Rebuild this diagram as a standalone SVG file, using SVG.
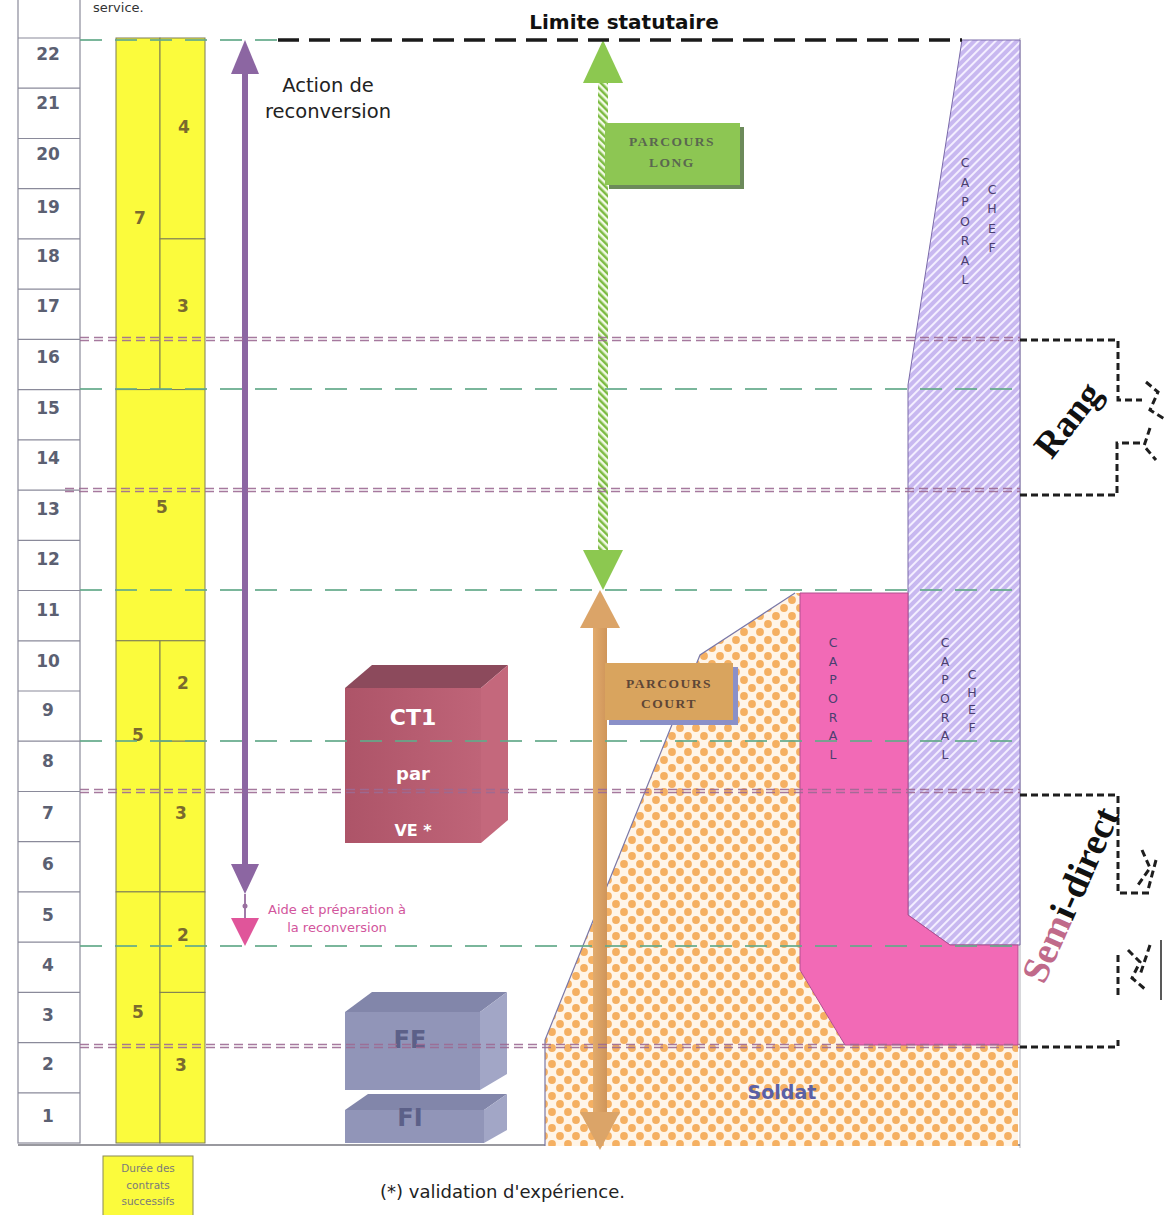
<svg xmlns="http://www.w3.org/2000/svg" width="1168" height="1215" viewBox="0 0 1168 1215">
<defs>
<style>
.num{font-family:"DejaVu Sans",Verdana,sans-serif;font-weight:bold;font-size:17px;fill:#5b6072;text-anchor:middle}
.yl{font-family:"DejaVu Sans",Verdana,sans-serif;font-weight:bold;font-size:17px;fill:#7a6a2e;text-anchor:middle}
.bar{fill:#fbfb3c;stroke:#7d7d55;stroke-width:1}
.cap{font-family:"DejaVu Sans",Verdana,sans-serif;font-size:12.5px;fill:#4a4070;text-anchor:middle}
.gl{stroke:#63a98a;stroke-width:2;stroke-dasharray:22 13;fill:none;opacity:.85}
.pl{stroke:#9c6a94;stroke-width:1.4;stroke-dasharray:9 5;fill:none;opacity:.9}
.bk{stroke:#1e1e1e;stroke-width:3;stroke-dasharray:7 4;fill:none}
.pc{font-family:"Liberation Serif","Times New Roman",serif;font-weight:bold;font-size:13.5px;letter-spacing:1.5px;text-anchor:middle}
.sans{font-family:"DejaVu Sans",Verdana,sans-serif}
</style>
<pattern id="hatch" width="6" height="6" patternUnits="userSpaceOnUse" patternTransform="rotate(45)">
<rect width="6" height="6" fill="#c8b8f0"/><rect width="2" height="6" fill="#f3eeff"/>
</pattern>
<pattern id="dots" width="16" height="16" patternUnits="userSpaceOnUse">
<rect width="16" height="16" fill="#fff5e8"/>
<circle cx="0" cy="0" r="3.9" fill="#f5b062"/><circle cx="16" cy="0" r="3.9" fill="#f5b062"/>
<circle cx="0" cy="16" r="3.9" fill="#f5b062"/><circle cx="16" cy="16" r="3.9" fill="#f5b062"/>
<circle cx="8" cy="8" r="3.9" fill="#f5b062"/>
</pattern>
<pattern id="gstripe" width="5" height="5" patternUnits="userSpaceOnUse" patternTransform="rotate(-45)">
<rect width="5" height="5" fill="#f2fae6"/><rect width="2.5" height="5" fill="#7cbb42"/>
</pattern>
<linearGradient id="ctg" x1="0" y1="0" x2="1" y2="0"><stop offset="0" stop-color="#ad5468"/><stop offset="1" stop-color="#bf6478"/></linearGradient>
<linearGradient id="org" x1="0" y1="0" x2="1" y2="0"><stop offset="0" stop-color="#e2ab6c"/><stop offset="1" stop-color="#cf955a"/></linearGradient>
</defs>
<rect width="1168" height="1215" fill="#ffffff"/>

<text class="sans" x="93" y="12" font-size="13" fill="#333">service.</text>

<g id="axis">
<rect x="18" y="-2" width="62" height="1145" fill="none" stroke="#8a8a9a" stroke-width="1.2"/>
<g stroke="#8a8a9a" stroke-width="1.2">
<line x1="18" y1="38" x2="80" y2="38"/><line x1="18" y1="88.2" x2="80" y2="88.2"/><line x1="18" y1="138.5" x2="80" y2="138.5"/>
<line x1="18" y1="188.7" x2="80" y2="188.7"/><line x1="18" y1="238.9" x2="80" y2="238.9"/><line x1="18" y1="289.2" x2="80" y2="289.2"/>
<line x1="18" y1="339.4" x2="80" y2="339.4"/><line x1="18" y1="389.6" x2="80" y2="389.6"/><line x1="18" y1="439.8" x2="80" y2="439.8"/>
<line x1="18" y1="490.1" x2="80" y2="490.1"/><line x1="18" y1="540.3" x2="80" y2="540.3"/><line x1="18" y1="590.5" x2="80" y2="590.5"/>
<line x1="18" y1="640.8" x2="80" y2="640.8"/><line x1="18" y1="691" x2="80" y2="691"/><line x1="18" y1="741.2" x2="80" y2="741.2"/>
<line x1="18" y1="791.5" x2="80" y2="791.5"/><line x1="18" y1="841.7" x2="80" y2="841.7"/><line x1="18" y1="891.9" x2="80" y2="891.9"/>
<line x1="18" y1="942.1" x2="80" y2="942.1"/><line x1="18" y1="992.4" x2="80" y2="992.4"/><line x1="18" y1="1042.6" x2="80" y2="1042.6"/>
<line x1="18" y1="1092.8" x2="80" y2="1092.8"/>
</g>
<text class="num" x="48" y="60">22</text><text class="num" x="48" y="109">21</text><text class="num" x="48" y="160">20</text>
<text class="num" x="48" y="213">19</text><text class="num" x="48" y="262">18</text><text class="num" x="48" y="312">17</text>
<text class="num" x="48" y="363">16</text><text class="num" x="48" y="414">15</text><text class="num" x="48" y="464">14</text>
<text class="num" x="48" y="515">13</text><text class="num" x="48" y="565">12</text><text class="num" x="48" y="616">11</text>
<text class="num" x="48" y="667">10</text><text class="num" x="48" y="716">9</text><text class="num" x="48" y="767">8</text>
<text class="num" x="48" y="819">7</text><text class="num" x="48" y="870">6</text><text class="num" x="48" y="921">5</text>
<text class="num" x="48" y="971">4</text><text class="num" x="48" y="1021">3</text><text class="num" x="48" y="1070">2</text>
<text class="num" x="48" y="1122">1</text>
</g>

<g id="frame" fill="none">
<line x1="1020" y1="38" x2="1020" y2="1148" stroke="#b0b0b8" stroke-width="1"/>
<line x1="18" y1="1145" x2="1020" y2="1145" stroke="#77777f" stroke-width="1.5"/>
</g>

<g id="contract-bars">
<rect class="bar" x="116" y="38" width="44" height="351.6"/>
<rect class="bar" x="160" y="38" width="45" height="200.9"/>
<rect class="bar" x="160" y="238.9" width="45" height="150.7"/>
<rect class="bar" x="116" y="389.6" width="89" height="251.2"/>
<rect class="bar" x="116" y="640.8" width="44" height="251.1"/>
<rect class="bar" x="160" y="640.8" width="45" height="100.4"/>
<rect class="bar" x="160" y="741.2" width="45" height="150.7"/>
<rect class="bar" x="116" y="891.9" width="44" height="251.1"/>
<rect class="bar" x="160" y="891.9" width="45" height="100.5"/>
<rect class="bar" x="160" y="992.4" width="45" height="150.6"/>
<text class="yl" x="184" y="133">4</text><text class="yl" x="140" y="224">7</text><text class="yl" x="183" y="312">3</text>
<text class="yl" x="162" y="513">5</text><text class="yl" x="183" y="689">2</text><text class="yl" x="138" y="741">5</text>
<text class="yl" x="181" y="819">3</text><text class="yl" x="183" y="941">2</text><text class="yl" x="138" y="1018">5</text>
<text class="yl" x="181" y="1071">3</text>
</g>

<g id="duree">
<rect x="103" y="1156" width="90" height="62" fill="#fbfb3c" stroke="#8a8a55" stroke-width="1"/>
<g class="sans" font-size="10.5" fill="#7a7a7a" text-anchor="middle">
<text x="148" y="1172">Durée des</text><text x="148" y="1189">contrats</text><text x="148" y="1205">successifs</text>
</g>
</g>

<g id="soldat">
<polygon points="795,593 700,655 545,1040 545,1146 1018,1146 1018,1045 845,1045 800,970 800,593" fill="url(#dots)"/>
<path d="M795,593 L700,655 L545,1040 L545,1146" fill="none" stroke="#7a78a8" stroke-width="1.2"/>
<text class="sans" x="782" y="1099" font-size="19" font-weight="bold" fill="#5a60a6" text-anchor="middle">Soldat</text>
</g>

<g id="caporal-chef">
<polygon points="962,40 1020,40 1020,945 950,945 908,915 908,385" fill="url(#hatch)" stroke="#7a6aa8" stroke-width="1"/>
<text class="cap"><tspan x="965" y="167">C</tspan><tspan x="965" y="186.5">A</tspan><tspan x="965" y="206">P</tspan><tspan x="965" y="225.5">O</tspan><tspan x="965" y="245">R</tspan><tspan x="965" y="264.5">A</tspan><tspan x="965" y="284">L</tspan></text>
<text class="cap"><tspan x="992" y="194">C</tspan><tspan x="992" y="213">H</tspan><tspan x="992" y="233">E</tspan><tspan x="992" y="252">F</tspan></text>
<text class="cap"><tspan x="945" y="647">C</tspan><tspan x="945" y="666">A</tspan><tspan x="945" y="684">P</tspan><tspan x="945" y="703">O</tspan><tspan x="945" y="722">R</tspan><tspan x="945" y="740">A</tspan><tspan x="945" y="759">L</tspan></text>
<text class="cap"><tspan x="972" y="679">C</tspan><tspan x="972" y="697">H</tspan><tspan x="972" y="714">E</tspan><tspan x="972" y="732">F</tspan></text>
</g>

<g id="caporal">
<polygon points="800,593 908,593 908,915 950,945 1018,945 1018,1045 845,1045 800,970" fill="#f26ab6" stroke="#b05090" stroke-width="1"/>
<text class="cap"><tspan x="833" y="647">C</tspan><tspan x="833" y="666">A</tspan><tspan x="833" y="684">P</tspan><tspan x="833" y="703">O</tspan><tspan x="833" y="722">R</tspan><tspan x="833" y="740">A</tspan><tspan x="833" y="759">L</tspan></text>
</g>

<g id="ct1">
<polygon points="345,688 372,665 508,665 481,688" fill="#8c4a5c"/>
<polygon points="481,688 508,665 508,820 481,843" fill="#c4687c"/>
<rect x="345" y="688" width="136" height="155" fill="url(#ctg)"/>
<g class="sans" fill="#ffffff" font-weight="bold" text-anchor="middle">
<text x="413" y="725" font-size="22">CT1</text>
<text x="413" y="780" font-size="18">par</text>
<text x="413" y="836" font-size="16">VE *</text>
</g>
</g>

<g id="fe-fi">
<polygon points="345,1012 372,992 507,992 480,1012" fill="#8286aa"/>
<polygon points="480,1012 507,992 507,1074 480,1090" fill="#a2a6c6"/>
<rect x="345" y="1012" width="135" height="78" fill="#9195b8"/>
<polygon points="345,1110 368,1094 507,1094 484,1110" fill="#8286aa"/>
<polygon points="484,1110 507,1094 507,1130 484,1143" fill="#a2a6c6"/>
<rect x="345" y="1110" width="139" height="33" fill="#9195b8"/>
<g class="sans" fill="#5c6088" font-weight="bold" font-size="24" text-anchor="middle">
<text x="410" y="1048">FE</text><text x="410" y="1126">FI</text>
</g>
</g>

<g id="connectors">
<g id="action-reconversion">
<rect x="242" y="70" width="6" height="800" fill="#8c66a2"/>
<polygon points="245,40 231,74 259,74" fill="#8c66a2"/>
<polygon points="245,894 231,864 259,864" fill="#8c66a2"/>
<line x1="245" y1="894" x2="245" y2="920" stroke="#a07aa8" stroke-width="2"/>
<circle cx="245" cy="906" r="2.5" fill="#9a70a0"/>
<polygon points="245,946 231,918 259,918" fill="#e0559a"/>
</g>
<g id="parcours-long-arrow">
<rect x="598" y="82" width="10" height="470" fill="url(#gstripe)"/>
<polygon points="603,40 583,83 623,83" fill="#8cc850"/>
<polygon points="603,590 583,550 623,550" fill="#8cc850"/>
</g>
<g id="parcours-court-arrow">
<rect x="593" y="626" width="14" height="488" fill="url(#org)"/>
<polygon points="600,590 580,628 620,628" fill="#dba468"/>
<polygon points="600,1150 580,1112 620,1112" fill="#dba468"/>
</g>
<g id="levels">
<line class="gl" x1="80" y1="40" x2="278" y2="40" stroke="#8aa898"/>
<line class="gl" x1="80" y1="389" x2="1020" y2="389"/>
<line class="gl" x1="80" y1="590" x2="1020" y2="590"/>
<line class="gl" x1="80" y1="741" x2="1020" y2="741"/>
<line class="gl" x1="80" y1="946" x2="1020" y2="946"/>
<line class="pl" x1="80" y1="337.5" x2="1020" y2="337.5"/><line class="pl" x1="80" y1="340.5" x2="1020" y2="340.5"/>
<line class="pl" x1="65" y1="488.5" x2="1020" y2="488.5"/><line class="pl" x1="65" y1="491.5" x2="1020" y2="491.5"/>
<line class="pl" x1="80" y1="789.5" x2="1020" y2="789.5"/><line class="pl" x1="80" y1="792.5" x2="1020" y2="792.5"/>
<line class="pl" x1="80" y1="1044.5" x2="1020" y2="1044.5"/><line class="pl" x1="80" y1="1047.5" x2="1020" y2="1047.5"/>
<line x1="278" y1="40" x2="962" y2="40" stroke="#1a1a1a" stroke-width="3.5" stroke-dasharray="21 10"/>
</g>
<g id="brackets">
<path class="bk" d="M1020,340 H1118 V400 H1142"/>
<path class="bk" d="M1140,443 H1117 V495 H1020"/>
<path class="bk" d="M1146,382 L1158,392 L1150,410 L1166,420 M1150,428 L1144,446 L1156,460" stroke-width="2"/>
<path class="bk" d="M1020,795 H1118 V893 H1150"/>
<path class="bk" d="M1118,955 V995"/>
<path class="bk" d="M1020,1047 H1118 V1040"/>
<path class="bk" d="M1142,850 L1150,868 L1138,885 M1156,860 L1148,890 M1128,950 L1140,962 L1132,978 L1146,990 M1150,945 L1140,975" stroke-width="2"/>
<line x1="1161" y1="940" x2="1161" y2="1000" stroke="#222" stroke-width="1.5"/>
</g>
</g>

<g id="parcours-long">
<rect x="609" y="127" width="135" height="62" fill="#6c8a5a"/>
<rect x="605" y="123" width="135" height="62" fill="#8dc653"/>
<text class="pc" x="672" y="146" fill="#5a6650">PARCOURS</text>
<text class="pc" x="672" y="167" fill="#5a6650">LONG</text>
</g>

<g id="parcours-court">
<rect x="609" y="667" width="129" height="58" fill="#8a90c8"/>
<rect x="605" y="663" width="128" height="57" fill="#d9a45e"/>
<text class="pc" x="669" y="688" fill="#5e4636">PARCOURS</text>
<text class="pc" x="669" y="708" fill="#5e4636">COURT</text>
</g>

<g id="labels">
<text class="sans" x="624" y="29" font-size="20" font-weight="bold" fill="#111" text-anchor="middle">Limite statutaire</text>
<g class="sans" font-size="19.5" fill="#222" text-anchor="middle">
<text x="328" y="92">Action de</text><text x="328" y="118">reconversion</text>
</g>
<g class="sans" font-size="13" fill="#d2559c" text-anchor="middle">
<text x="337" y="914">Aide et préparation à</text><text x="337" y="932">la reconversion</text>
</g>
<text class="sans" x="380" y="1198" font-size="18" fill="#222">(*) validation d'expérience.</text>
<text transform="translate(1068,420) rotate(-52)" x="0" y="12" font-family="'Liberation Serif','Times New Roman',serif" font-weight="bold" font-size="37" fill="#111" text-anchor="middle">Rang</text>
<text transform="translate(1071,895) rotate(-66)" x="0" y="12" font-family="'Liberation Serif','Times New Roman',serif" font-weight="bold" font-size="38" fill="#111" text-anchor="middle"><tspan fill="#c06a8a">Sem</tspan>i-direct</text>
</g>
</svg>
